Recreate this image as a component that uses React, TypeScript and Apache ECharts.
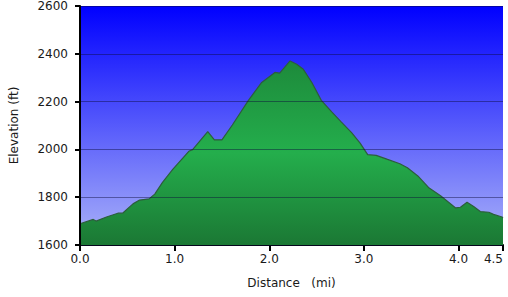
import React, { useEffect, useRef } from 'react';
import * as echarts from 'echarts';

const distances = [0, 0.14, 0.17, 0.28, 0.40, 0.45, 0.56, 0.63, 0.73, 0.79, 0.87, 0.98, 1.15, 1.19, 1.35, 1.42, 1.50, 1.61, 1.78, 1.92, 2.06, 2.11, 2.22, 2.29, 2.36, 2.45, 2.55, 2.66, 2.76, 2.87, 2.96, 3.04, 3.13, 3.25, 3.38, 3.46, 3.57, 3.69, 3.81, 3.97, 4.02, 4.09, 4.16, 4.23, 4.32, 4.37, 4.46, 4.47];
const elevations = [1689, 1707, 1700, 1717, 1733, 1733, 1772, 1788, 1793, 1813, 1861, 1916, 1992, 1999, 2074, 2040, 2040, 2102, 2205, 2280, 2322, 2319, 2370, 2356, 2335, 2280, 2205, 2157, 2115, 2070, 2026, 1978, 1975, 1958, 1940, 1923, 1889, 1838, 1806, 1755, 1758, 1779, 1761, 1740, 1737, 1728, 1717, 1714];

const xMin = 0;
const xMax = 4.47;
const xInterval = 1;
const yMin = 1600;
const yMax = 2600;
const yInterval = 200;

const xName = 'Distance   (mi)';
const yName = 'Elevation (ft)';

export default function App() {
  const ref = useRef<HTMLDivElement>(null);

  useEffect(() => {
    document.body.style.margin = '0';
    if (!ref.current) return;
    const chart = echarts.init(ref.current, undefined, { renderer: 'svg' });
    const font = 'DejaVu Sans';
    chart.setOption({
      animation: false,
      textStyle: { fontFamily: font },
      grid: {
        left: 77,
        right: 5,
        top: 3,
        bottom: 52,
        show: true,
        borderWidth: 0,
        backgroundColor: {
          type: 'linear', x: 0, y: 0, x2: 0, y2: 1,
          colorStops: [
            { offset: 0, color: '#0000ff' },
            { offset: 1, color: '#acb4f8' },
          ],
        },
      },
      xAxis: {
        type: 'value',
        min: xMin,
        max: xMax,
        interval: xInterval,
        name: xName,
        nameLocation: 'middle',
        nameGap: 32,
        nameTextStyle: { fontFamily: font, fontSize: 12, color: '#1a1a1a' },
        axisLine: { show: true, onZero: false, lineStyle: { color: '#000', width: 2 } },
        axisTick: { show: true, length: 6, lineStyle: { color: '#000', width: 2 } },
        axisLabel: {
          show: true,
          margin: 8,
          fontFamily: font,
          fontSize: 12,
          color: '#1a1a1a',
          showMaxLabel: true,
          alignMaxLabel: 'right',
          formatter: (v: number) => v.toFixed(1),
        },
        splitLine: { show: false },
      },
      yAxis: {
        type: 'value',
        min: yMin,
        max: yMax,
        interval: yInterval,
        z: 3,
        name: yName,
        nameLocation: 'middle',
        nameGap: 60,
        nameTextStyle: { fontFamily: font, fontSize: 12, color: '#1a1a1a' },
        axisLine: { show: true, lineStyle: { color: '#000', width: 2 } },
        axisTick: { show: true, length: 5, lineStyle: { color: '#000', width: 2 } },
        axisLabel: {
          margin: 12,
          fontFamily: font,
          fontSize: 12,
          color: '#1a1a1a',
          formatter: (v: number) => String(v),
        },
        splitLine: { show: true, lineStyle: { color: 'rgba(10,10,60,0.45)', width: 1 } },
      },
      series: [
        {
          type: 'line',
          data: distances.map((d, i) => [d, elevations[i]]),
          showSymbol: false,
          symbol: 'none',
          lineStyle: { color: '#2c5e3c', width: 1.2 },
          areaStyle: {
            opacity: 1,
            color: {
              type: 'linear', x: 0, y: 0, x2: 0, y2: 1,
              colorStops: [
                { offset: 0, color: '#1d8a3b' },
                { offset: 0.5, color: '#24ae4c' },
                { offset: 1, color: '#1b7834' },
              ],
            },
          },
          z: 2,
        },
      ],
    });
    return () => chart.dispose();
  }, []);

  return <div ref={ref} style={{ width: 508, height: 297 }} />;
}
